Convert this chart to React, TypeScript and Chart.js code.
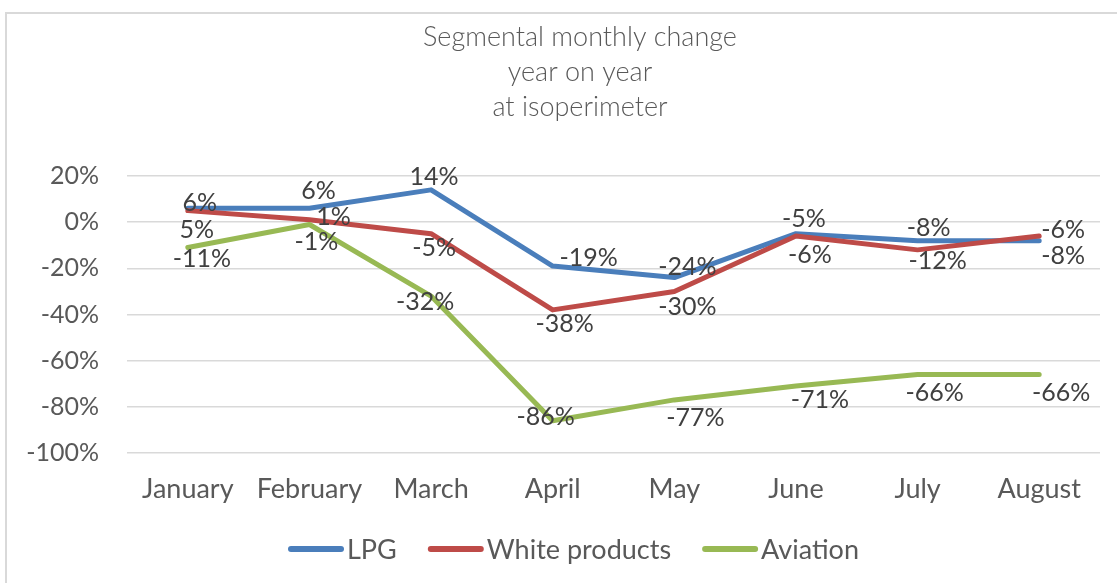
import React, { useEffect, useRef } from "react";
import { Chart, registerables } from "chart.js";

Chart.register(...registerables);

const MONTHS = ["January", "February", "March", "April", "May", "June", "July", "August"];
const LPG = [6, 6, 14, -19, -24, -5, -8, -8];
const WHITE_PRODUCTS = [5, 1, -5, -38, -30, -6, -12, -6];
const AVIATION = [-11, -1, -32, -86, -77, -71, -66, -66];
const SERIES_NAMES = ["LPG", "White products", "Aviation"];
const TITLE_LINES = ["Segmental monthly change", "year on year", "at isoperimeter"];
const Y_MIN = -100;
const Y_MAX = 20;
const Y_STEP = 20;

const COLORS = ["#4A7EBB", "#BE4B48", "#98B954"];
const FONT = "Lato, 'Open Sans', sans-serif";
const LABEL_SIZE = 25;
const TEXT_SIZE = 27;

// manual data-label placement (offset of label centre from its point), per series
const LABEL_OFFSETS: number[][][] = [
  [[12, -6], [9, -18], [3, -14], [36, -9], [13, -12], [8, -16], [11, -14], [24, 14]],
  [[9, 18], [24, -4], [3, 13], [12, 13], [13, 15], [14, 18], [20, 10], [24, -7]],
  [[14, 10], [7, 17], [-6, 5], [-7, -5], [21, 17], [24, 13], [17, 17], [22, 17]],
];

const dataLabelPlugin = {
  id: "dataLabels",
  afterDatasetsDraw(chart: any) {
    const ctx = chart.ctx;
    ctx.save();
    ctx.font = `${LABEL_SIZE}px ${FONT}`;
    ctx.fillStyle = "#404040";
    ctx.textAlign = "center";
    ctx.textBaseline = "alphabetic";
    chart.data.datasets.forEach((ds: any, di: number) => {
      const meta = chart.getDatasetMeta(di);
      meta.data.forEach((pt: any, i: number) => {
        const [dx, dy] = LABEL_OFFSETS[di][i];
        ctx.fillText(`${ds.data[i]}%`, pt.x + dx, pt.y + dy + LABEL_SIZE * 0.36);
      });
    });
    ctx.restore();
  },
};

const titlePlugin = {
  id: "customTitle",
  afterDraw(chart: any) {
    const ctx = chart.ctx;
    ctx.save();
    ctx.font = `300 ${TEXT_SIZE}px ${FONT}`;
    ctx.fillStyle = "#595959";
    ctx.textAlign = "center";
    ctx.textBaseline = "middle";
    TITLE_LINES.forEach((line, i) => {
      ctx.fillText(line, 580, 37 + i * 35);
    });
    ctx.restore();
  },
};

const legendPlugin = {
  id: "customLegend",
  afterDraw(chart: any) {
    const ctx = chart.ctx;
    ctx.save();
    ctx.font = `${TEXT_SIZE}px ${FONT}`;
    const lineLen = 50;
    const cap = 3;
    const gap = 3;
    const spacing = 31;
    let x = 288;
    const y = 549;
    SERIES_NAMES.forEach((name, i) => {
      const w = ctx.measureText(name).width;
      ctx.strokeStyle = COLORS[i];
      ctx.lineWidth = 6;
      ctx.lineCap = "round";
      ctx.beginPath();
      ctx.moveTo(x + cap, y);
      ctx.lineTo(x + cap + lineLen, y);
      ctx.stroke();
      ctx.fillStyle = "#595959";
      ctx.textAlign = "left";
      ctx.textBaseline = "alphabetic";
      ctx.fillText(name, x + lineLen + cap * 2 + gap, y + TEXT_SIZE * 0.36);
      x += lineLen + cap * 2 + gap + w + spacing;
    });
    ctx.restore();
  },
};

export default function App() {
  const ref = useRef<HTMLCanvasElement>(null);
  useEffect(() => {
    if (!ref.current) return;
    const series = [LPG, WHITE_PRODUCTS, AVIATION];
    const chart = new Chart(ref.current, {
      type: "line",
      data: {
        labels: MONTHS,
        datasets: series.map((d, i) => ({
          label: SERIES_NAMES[i],
          data: d,
          borderColor: COLORS[i],
          backgroundColor: COLORS[i],
          borderWidth: 5,
          pointRadius: 0,
          tension: 0,
          borderCapStyle: "round",
          borderJoinStyle: "round",
          order: series.length - 1 - i,
        })),
      },
      options: {
        animation: false,
        responsive: false,
        layout: { padding: { left: 0, right: 17, top: 176, bottom: 0 } },
        plugins: {
          legend: { display: false },
          tooltip: { enabled: false },
          title: { display: false },
        },
        scales: {
          x: {
            offset: true,
            grid: { display: false, drawTicks: false },
            border: { display: false },
            ticks: { color: "#595959", font: { family: FONT, size: TEXT_SIZE }, padding: 20, maxRotation: 0, autoSkip: false },
            afterFit: (s: any) => { s.height = 130; },
          },
          y: {
            min: Y_MIN,
            max: Y_MAX,
            grid: { color: "#d9d9d9", lineWidth: 1.5, drawTicks: false },
            border: { display: false },
            ticks: {
              stepSize: Y_STEP,
              color: "#595959",
              font: { family: FONT, size: LABEL_SIZE },
              padding: 28,
              callback: (v: any) => `${Math.round(Number(v))}%`,
            },
            afterFit: (s: any) => { s.width = 127; },
          },
        },
      },
      plugins: [dataLabelPlugin, titlePlugin, legendPlugin],
    });
    return () => chart.destroy();
  }, []);

  return (
    <div>
      <canvas
        ref={ref}
        width={1117}
        height={583}
        style={{ position: "absolute", left: 0, top: 0, width: 1117, height: 583, display: "block" }}
      />
      <div
        style={{
          position: "absolute",
          left: 5,
          top: 12,
          width: 1200,
          height: 600,
          border: "2px solid #d9d9d9",
          pointerEvents: "none",
        }}
      />
    </div>
  );
}
